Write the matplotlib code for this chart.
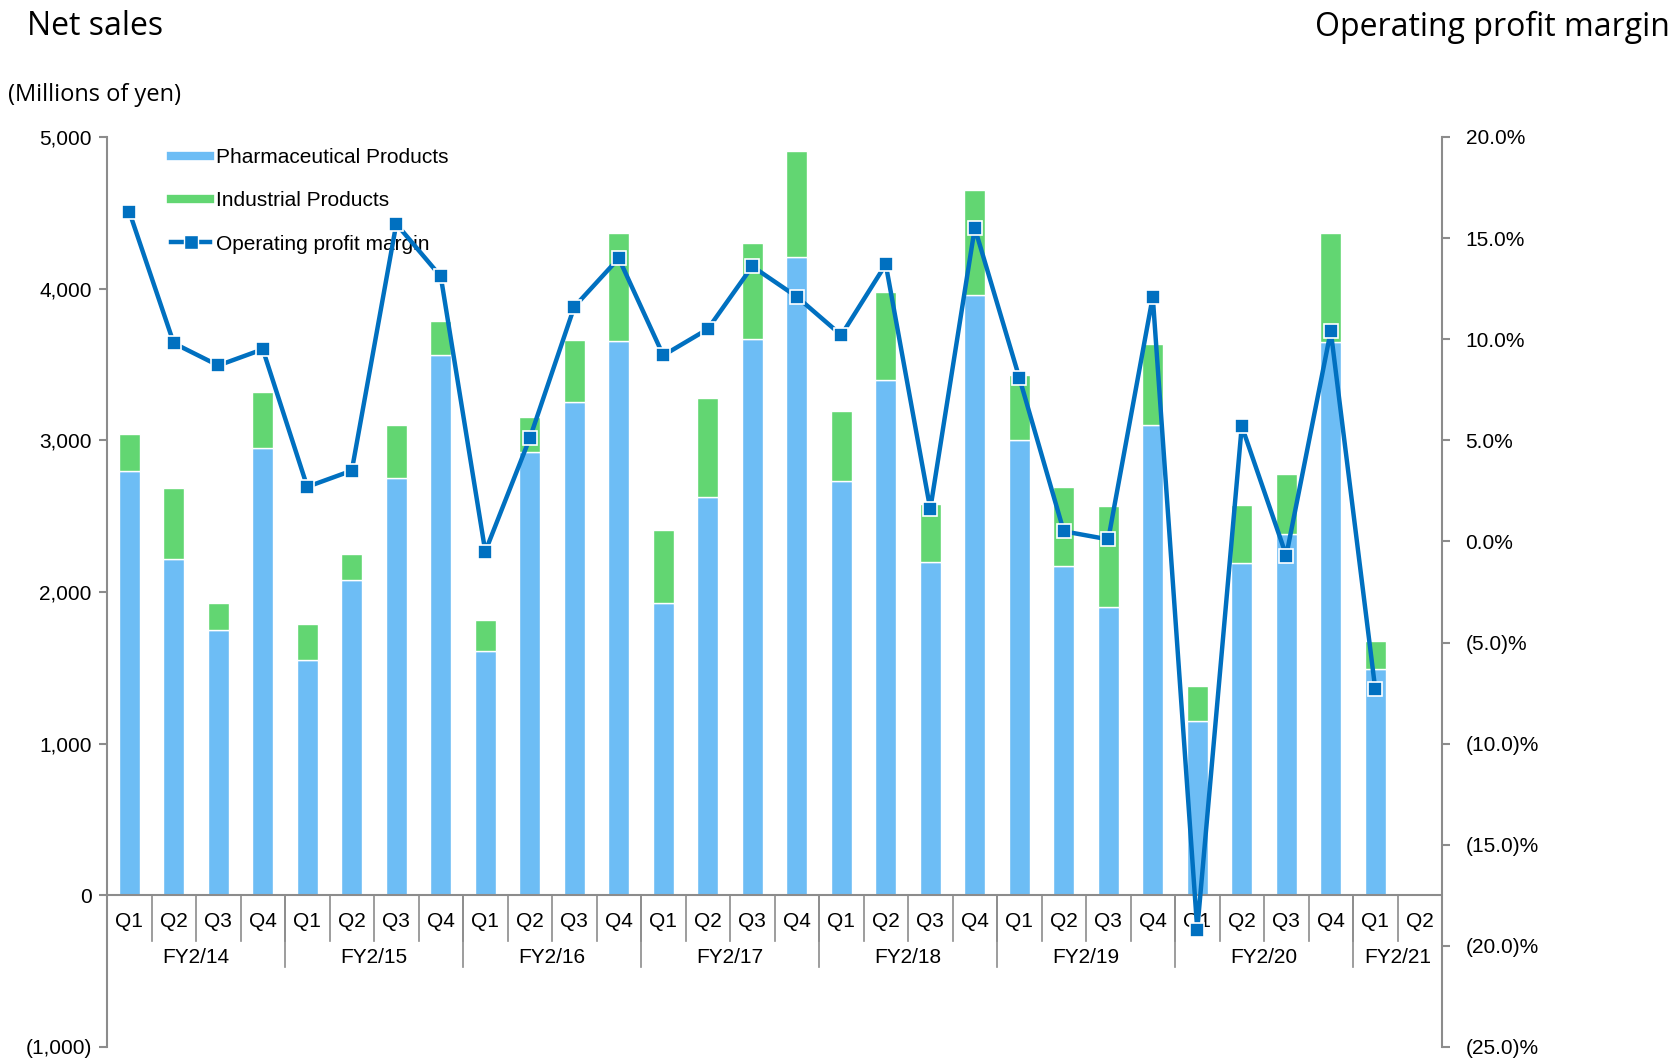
import matplotlib.pyplot as plt
from matplotlib.lines import Line2D
from matplotlib.ticker import FuncFormatter, MultipleLocator

plt.rcParams['font.family'] = ['Liberation Sans', 'DejaVu Sans']

years = ['FY2/14', 'FY2/15', 'FY2/16', 'FY2/17', 'FY2/18', 'FY2/19', 'FY2/20', 'FY2/21']
quarters_per_year = [4, 4, 4, 4, 4, 4, 4, 2]

# millions of yen
pharma = [2800, 2220, 1750, 2950,
          1550, 2080, 2750, 3560,
          1610, 2920, 3250, 3655,
          1930, 2625, 3670, 4210,
          2730, 3395, 2200, 3960,
          3000, 2170, 1900, 3100,
          1150, 2190, 2380, 3650,
          1490, None]
industrial = [240, 465, 180, 370,
              240, 170, 350, 225,
              205, 235, 410, 715,
              480, 655, 630, 700,
              460, 585, 380, 690,
              430, 525, 670, 535,
              230, 385, 400, 715,
              185, None]
# percent
margin = [16.3, 9.8, 8.7, 9.5,
          2.7, 3.5, 15.7, 13.1,
          -0.5, 5.1, 11.6, 14.0,
          9.2, 10.5, 13.6, 12.1,
          10.2, 13.7, 1.6, 15.5,
          8.1, 0.5, 0.1, 12.1,
          -19.2, 5.7, -0.7, 10.4,
          -7.3, None]

c_pharma = '#6DBDF5'
c_ind = '#62D672'
c_line = '#0070C0'
c_axis = '#8C8C8C'
fs = 15

labels = []
for n in quarters_per_year:
    labels += ['Q%d' % (i + 1) for i in range(n)]
x = list(range(len(labels)))

fig = plt.figure(figsize=(16.75, 10.6), dpi=100)
ax = fig.add_axes([0.0639, 0.0123, 0.7970, 0.8585])
ax2 = ax.twinx()

bx = [i for i in x if pharma[i] is not None]
ph = [pharma[i] for i in bx]
ind = [industrial[i] for i in bx]
ax.bar(bx, ph, width=0.47, color=c_pharma, edgecolor='white', linewidth=1)
ax.bar(bx, ind, width=0.47, bottom=ph, color=c_ind, edgecolor='white', linewidth=1)

mx = [i for i in x if margin[i] is not None]
my = [margin[i] for i in mx]
ax2.plot(mx, my, color=c_line, lw=3.2, marker='s', ms=10,
         mfc=c_line, mec='white', mew=1.2)

ax.set_xlim(-0.5, len(x) - 0.5)
ax.set_ylim(-1000, 5000)
ax2.set_ylim(-25, 20)
ax.yaxis.set_major_locator(MultipleLocator(1000))
ax2.yaxis.set_major_locator(MultipleLocator(5))


def yen_fmt(v, pos):
    if v < 0:
        return '({:,.0f})'.format(-v)
    return '{:,.0f}'.format(v)


def pct_fmt(v, pos):
    if v < -1e-9:
        return '({:.1f})%'.format(-v)
    return '{:.1f}%'.format(abs(v))


ax.yaxis.set_major_formatter(FuncFormatter(yen_fmt))
ax2.yaxis.set_major_formatter(FuncFormatter(pct_fmt))

for a in (ax, ax2):
    for s in ('top', 'bottom'):
        a.spines[s].set_visible(False)
    for s in ('left', 'right'):
        a.spines[s].set_color(c_axis)
        a.spines[s].set_linewidth(1.5)
ax.spines['right'].set_visible(False)
ax2.spines['left'].set_visible(False)

ax.tick_params(axis='y', length=6, color=c_axis, width=1.5, labelsize=fs, pad=5)
ax2.tick_params(axis='y', length=6, color=c_axis, width=1.5, labelsize=fs, pad=11)
ax.set_xticks([])

# category axis at zero
ax.axhline(0, color=c_axis, lw=1.5, zorder=1)
for i, lab in enumerate(labels):
    ax.text(i, -170, lab, ha='center', va='center', fontsize=fs)
for i in range(1, len(x)):
    ax.plot([i - 0.5, i - 0.5], [0, -300], color=c_axis, lw=1.2, clip_on=False)
start = 0
for yr, n in zip(years, quarters_per_year):
    ax.text(start + (n - 1) / 2, -410, yr, ha='center', va='center', fontsize=fs)
    start += n
    if start < len(x):
        ax.plot([start - 0.5, start - 0.5], [0, -470], color=c_axis, lw=1.2, clip_on=False)

handles = [Line2D([], [], color=c_pharma, lw=6),
           Line2D([], [], color=c_ind, lw=6),
           Line2D([], [], color=c_line, lw=3.2, marker='s', ms=10, mfc=c_line, mec='white')]
ax.legend(handles, ['Pharmaceutical Products', 'Industrial Products', 'Operating profit margin'],
          loc='upper left', bbox_to_anchor=(0.0478, 0.988), frameon=False, fontsize=fs,
          handlelength=1.9, handletextpad=0.25, labelspacing=1.17, borderpad=0, borderaxespad=0)

fig.text(0.016, 0.975, 'Net sales', fontsize=23, family='Open Sans', va='center', ha='left')
fig.text(0.997, 0.974, 'Operating profit margin', fontsize=23, family='Open Sans', va='center', ha='right')
fig.text(0.005, 0.910, '(Millions of yen)', fontsize=17, family='Open Sans', va='center', ha='left')

fig.savefig('out.png', dpi=100)
